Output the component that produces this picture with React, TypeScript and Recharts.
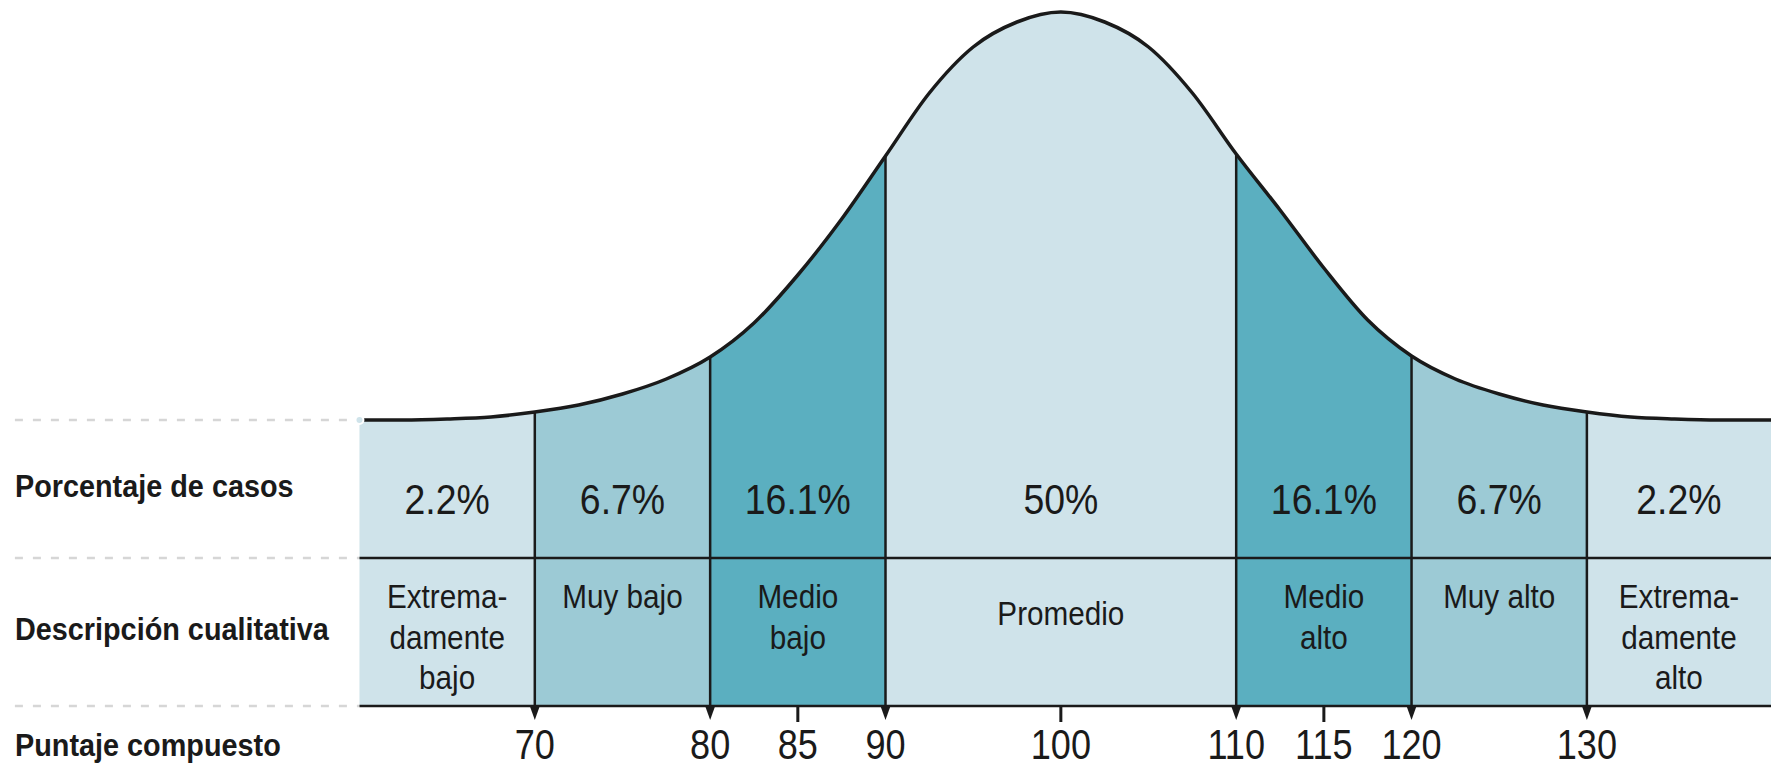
import {
  ComposedChart,
  Area,
  Line,
  XAxis,
  YAxis,
  ReferenceLine,
  ReferenceArea,
} from "recharts";

// puntaje compuesto (eje x) y altura de la curva
const scores = [
  60, 62.5, 65, 67.5, 70, 72.5, 75, 77.5, 80, 82.5, 85, 87.5, 90, 92.5, 95,
  97.5, 100, 102.5, 105, 107.5, 110, 112.5, 115, 117.5, 120, 122.5, 125,
  127.5, 130, 132.5, 135, 137.5, 140, 140.5,
];
const heights = [
  0, 0, 1, 3, 8, 15, 26, 41, 63, 97, 145, 201, 264, 327, 373, 398, 408, 398,
  373, 327, 266, 210, 152, 100, 64, 41, 26, 15, 8, 3, 1, 0, 0, 0,
];

const bandStarts = [60, 70, 80, 90, 110, 120, 130];
const bandEnds = [70, 80, 90, 110, 120, 130, 140.5];
const bandTones = ["light", "medium", "dark", "light", "dark", "medium", "light"];
const percentages = ["2.2%", "6.7%", "16.1%", "50%", "16.1%", "6.7%", "2.2%"];
const descriptions = [
  ["Extrema-", "damente", "bajo"],
  ["Muy bajo"],
  ["Medio", "bajo"],
  ["Promedio"],
  ["Medio", "alto"],
  ["Muy alto"],
  ["Extrema-", "damente", "alto"],
];

const boundaries = [70, 80, 90, 110, 120, 130];
const tickValues = [70, 80, 85, 90, 100, 110, 115, 120, 130];

const toneColors: Record<string, string> = {
  light: "#cfe3ea",
  medium: "#9ccad5",
  dark: "#5bafc0",
};

const INK = "#1a1a1a";
const FONT = "'Liberation Sans', Arial, sans-serif";

// y layout of the table under the curve
const TABLE_TOP = 0;
const ROW_SPLIT = -138;
const TABLE_BOTTOM = -286;
const LEFT_X = 40.35;
const X_MIN = 39.5;
const X_MAX = 140.5;

const rows = scores.map((x, i) => {
  const r: Record<string, number | null> = { x, h: heights[i] };
  bandStarts.forEach((s, b) => {
    r[`b${b}`] = x >= s && x <= bandEnds[b] ? heights[i] : null;
  });
  return r;
});

const heightAt = (x: number) => heights[scores.indexOf(x)];

// condensed text (no narrow font installed, so squeeze horizontally)
function NarrowText({ x, y, size, sx, bold, anchor = "middle", children }: any) {
  return (
    <text
      transform={`translate(${x},${y}) scale(${sx},1)`}
      x={0}
      y={0}
      textAnchor={anchor}
      fontSize={size}
      fontWeight={bold ? "bold" : "normal"}
      fontFamily={FONT}
      fill={INK}
    >
      {children}
    </text>
  );
}

function ScoreTick(props: any) {
  const { x, y, payload } = props;
  const edge = boundaries.includes(payload.value);
  return (
    <g>
      {edge ? (
        <path d={`M${x - 5},${y} L${x + 5},${y} L${x},${y + 14} Z`} fill={INK} />
      ) : (
        <rect x={x - 1.5} y={y} width={3} height={16} fill={INK} />
      )}
      <NarrowText x={x} y={y + 53} size={42} sx={0.86}>
        {payload.value}
      </NarrowText>
    </g>
  );
}

const rowLabel = (text: string, dy: number) => (p: any) => (
  <NarrowText x={p.viewBox.x} y={p.viewBox.y + dy} size={31} sx={0.93} bold anchor="start">
    {text}
  </NarrowText>
);

const pctLabel = (text: string) => (p: any) => (
  <NarrowText x={p.viewBox.x + p.viewBox.width / 2} y={p.viewBox.y + 94} size={43} sx={0.87}>
    {text}
  </NarrowText>
);

const descLabel = (lines: string[], dy: number) => (p: any) => (
  <g>
    {lines.map((l, i) => (
      <NarrowText key={i} x={p.viewBox.x + p.viewBox.width / 2} y={p.viewBox.y + dy + i * 40.5} size={33} sx={0.9}>
        {l}
      </NarrowText>
    ))}
  </g>
);

export default function App() {
  return (
    <div style={{ position: "absolute", left: 0, top: 0, width: 1771, height: 769, background: "#fff" }}>
      <ComposedChart width={1771} height={769} data={rows} margin={{ top: 0, right: 0, bottom: 0, left: 0 }}>
        <XAxis
          dataKey="x"
          type="number"
          domain={[X_MIN, X_MAX]}
          allowDataOverflow
          ticks={tickValues}
          interval={0}
          tick={<ScoreTick />}
          axisLine={false}
          tickLine={false}
          tickSize={0}
          tickMargin={0}
          height={63}
          label={(p: any) => (
            <NarrowText x={p.viewBox.x + 15} y={p.viewBox.y + 50} size={31} sx={0.93} bold anchor="start">
              Puntaje compuesto
            </NarrowText>
          )}
        />
        <YAxis hide type="number" domain={[TABLE_BOTTOM, 420]} allowDataOverflow />

        {bandStarts.map((_, b) => (
          <Area
            key={`band${b}`}
            dataKey={`b${b}`}
            type="monotone"
            fill={toneColors[bandTones[b]]}
            fillOpacity={1}
            stroke="none"
            baseValue={TABLE_BOTTOM}
            isAnimationActive={false}
          />
        ))}

        {/* dashed guides on the left */}
        {[TABLE_TOP, ROW_SPLIT, TABLE_BOTTOM].map((y) => (
          <ReferenceLine
            key={`dash${y}`}
            segment={[{ x: LEFT_X, y }, { x: 60, y }]}
            stroke="#d6d6d6"
            strokeWidth={2.5}
            strokeDasharray="8 10"
          />
        ))}

        {/* table rules */}
        <ReferenceLine segment={[{ x: 60, y: ROW_SPLIT }, { x: X_MAX, y: ROW_SPLIT }]} stroke={INK} strokeWidth={2.5} />
        <ReferenceLine segment={[{ x: 60, y: TABLE_BOTTOM }, { x: X_MAX, y: TABLE_BOTTOM }]} stroke={INK} strokeWidth={2.5} />
        {boundaries.map((bx) => (
          <ReferenceLine
            key={`edge${bx}`}
            segment={[{ x: bx, y: TABLE_BOTTOM }, { x: bx, y: heightAt(bx) }]}
            stroke={INK}
            strokeWidth={2.5}
          />
        ))}

        {/* row titles */}
        <ReferenceArea x1={LEFT_X} x2={60} y1={ROW_SPLIT} y2={TABLE_TOP} fillOpacity={0} stroke="none" label={rowLabel("Porcentaje de casos", 77)} />
        <ReferenceArea x1={LEFT_X} x2={60} y1={TABLE_BOTTOM} y2={ROW_SPLIT} fillOpacity={0} stroke="none" label={rowLabel("Descripción cualitativa", 82)} />

        {/* cell texts */}
        {bandStarts.map((s, b) => (
          <ReferenceArea
            key={`pct${b}`}
            x1={s}
            x2={bandEnds[b]}
            y1={ROW_SPLIT}
            y2={TABLE_TOP}
            fillOpacity={0}
            stroke="none"
            label={pctLabel(percentages[b])}
          />
        ))}
        {bandStarts.map((s, b) => (
          <ReferenceArea
            key={`desc${b}`}
            x1={s}
            x2={bandEnds[b]}
            y1={TABLE_BOTTOM}
            y2={ROW_SPLIT}
            fillOpacity={0}
            stroke="none"
            label={descLabel(descriptions[b], b === 3 ? 67 : 50)}
          />
        ))}

        <Line
          dataKey="h"
          type="monotone"
          stroke={INK}
          strokeWidth={3.5}
          dot={false}
          activeDot={false}
          isAnimationActive={false}
        />
      </ComposedChart>
    </div>
  );
}
